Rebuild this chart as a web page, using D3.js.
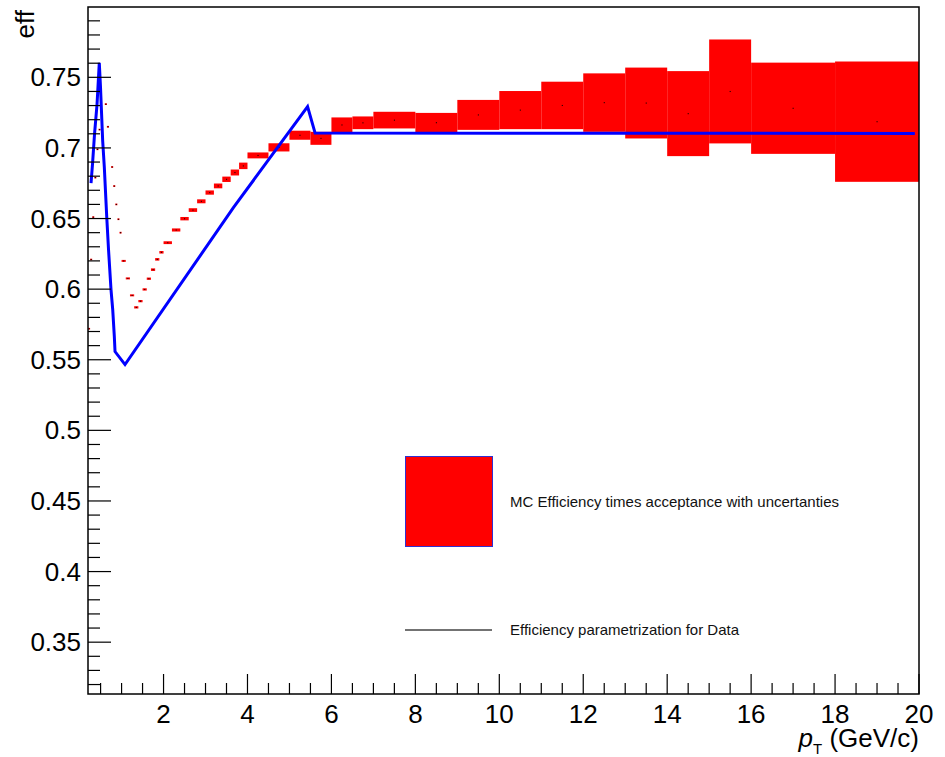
<!DOCTYPE html>
<html>
<head>
<meta charset="utf-8">
<script src="https://cdnjs.cloudflare.com/ajax/libs/d3/7.8.5/d3.min.js"></script>
<style>
    body { margin: 0; background: #fff; }
    text { font-family: "Liberation Sans", Arial, sans-serif; }
</style>
</head>
<body>
<svg></svg>
<script>
"use strict";

// MC efficiency x acceptance per pT bin (value +- uncertainty)
var binLow = [0.20, 0.25, 0.30, 0.35, 0.40, 0.45, 0.60, 0.65, 0.75, 0.80, 0.85, 0.90, 0.95,
    1.0, 1.1, 1.2, 1.3, 1.4, 1.5, 1.6, 1.7, 1.8, 1.9,
    2.0, 2.2, 2.4, 2.6, 2.8, 3.0, 3.2, 3.4, 3.6, 3.8,
    4.0, 4.5, 5.0, 5.5, 6.0, 6.5, 7, 8, 9, 10, 11, 12, 13, 14, 15, 16, 18];
var binHigh = [0.25, 0.30, 0.35, 0.40, 0.45, 0.50, 0.65, 0.70, 0.80, 0.85, 0.90, 0.95, 1.00,
    1.1, 1.2, 1.3, 1.4, 1.5, 1.6, 1.7, 1.8, 1.9, 2.0,
    2.2, 2.4, 2.6, 2.8, 3.0, 3.2, 3.4, 3.6, 3.8, 4.0,
    4.5, 5.0, 5.5, 6.0, 6.5, 7, 8, 9, 10, 11, 12, 13, 14, 15, 16, 18, 20];
var effMC = [0.572, 0.621, 0.651, 0.679, 0.699, 0.713, 0.731, 0.715, 0.6865, 0.673, 0.660, 0.6495, 0.640,
    0.620, 0.6076, 0.5956, 0.5871, 0.5915, 0.5998, 0.6074, 0.6138, 0.6211, 0.6261,
    0.6329, 0.6419, 0.6499, 0.656, 0.6622, 0.6684, 0.6731, 0.6778, 0.6826, 0.6873,
    0.6947, 0.7004, 0.709, 0.7068, 0.7163, 0.7178, 0.7197, 0.7179, 0.7234, 0.7268, 0.7301, 0.7321,
    0.7318, 0.7243, 0.740, 0.7281, 0.7186];
var errMC = [0.0005, 0.0005, 0.0005, 0.0005, 0.0005, 0.0005, 0.0006, 0.0006, 0.0006, 0.0006, 0.0006, 0.0006, 0.0006,
    0.0007, 0.0007, 0.0007, 0.0008, 0.0008, 0.0008, 0.0008, 0.0009, 0.0009, 0.0009,
    0.0010, 0.0011, 0.0012, 0.0013, 0.0014, 0.0015, 0.0017, 0.0019, 0.0021, 0.0023,
    0.0021, 0.0029, 0.0032, 0.0046, 0.0053, 0.0045, 0.0059, 0.0069, 0.0106, 0.0135, 0.0168, 0.0207,
    0.0251, 0.0301, 0.0368, 0.0323, 0.0426];

// efficiency parametrization used for data
var paramPt = [0.272, 0.307, 0.355, 0.415, 0.469, 0.498, 0.550, 0.589, 0.646, 0.689, 0.748, 0.789,
    0.827, 0.844, 1.082, 3.664, 5.432, 5.611, 19.9];
var paramEff = [0.675, 0.6884, 0.7096, 0.7309, 0.7603, 0.7429, 0.7049, 0.6862, 0.6514, 0.6281, 0.5997, 0.5855,
    0.5666, 0.5558, 0.5466, 0.6577, 0.7293, 0.7105, 0.7103];

var xTicks = [2, 4, 6, 8, 10, 12, 14, 16, 18, 20];
var yTicks = [0.35, 0.4, 0.45, 0.5, 0.55, 0.6, 0.65, 0.7, 0.75];

var legendLabels = ["MC Efficiency times acceptance with uncertanties", "Efficiency parametrization for Data"];

var settings = {
    svg: { width: 945, height: 757 },
    frame: { left: 88, right: 919, top: 7, bottom: 694 },
    x: { min: 0.2, max: 20, minorStep: 0.5, major: 20, minor: 11 },
    y: { min: 0.3133, max: 0.7998, minorStep: 0.01, major: 23, minor: 12 },
    font: 26,
    red: '#ff0000',
    blue: '#0000ff'
};

var fr = settings.frame;

var svg = d3.select('svg')
    .attr('width', settings.svg.width)
    .attr('height', settings.svg.height);

var x = d3.scaleLinear().domain([settings.x.min, settings.x.max]).range([fr.left, fr.right]);
var y = d3.scaleLinear().domain([settings.y.min, settings.y.max]).range([fr.bottom, fr.top]);

svg.append('clipPath').attr('id', 'plot-clip')
    .append('rect')
    .attr('x', fr.left).attr('y', fr.top)
    .attr('width', fr.right - fr.left).attr('height', fr.bottom - fr.top);

var bins = binLow.map((lo, i) => ({ lo: lo, hi: binHigh[i], v: effMC[i], e: errMC[i] }));

var plot = svg.append('g').attr('clip-path', 'url(#plot-clip)');

// uncertainty boxes
plot.append('g')
    .selectAll('rect')
    .data(bins)
    .enter()
    .append('rect')
    .attr('x', d => x(d.lo))
    .attr('width', d => x(d.hi) - x(d.lo))
    .attr('y', d => Math.min(y(d.v + d.e), y(d.v) - 0.8))
    .attr('height', d => Math.max(y(d.v - d.e) - y(d.v + d.e), 1.6))
    .attr('fill', settings.red);

// central values
plot.append('g')
    .selectAll('rect')
    .data(bins)
    .enter()
    .append('rect')
    .attr('x', d => x((d.lo + d.hi) / 2) - 0.5)
    .attr('y', d => y(d.v) - 0.5)
    .attr('width', 1.1)
    .attr('height', 1.1)
    .attr('fill', '#200000');

// parametrization curve
var line = d3.line().x(d => x(d[0])).y(d => y(d[1]));
plot.append('path')
    .datum(paramPt.map((p, i) => [p, paramEff[i]]))
    .attr('d', line)
    .attr('fill', 'none')
    .attr('stroke', settings.blue)
    .attr('stroke-width', 3)
    .attr('stroke-linejoin', 'miter');

// frame
svg.append('rect')
    .attr('x', fr.left).attr('y', fr.top)
    .attr('width', fr.right - fr.left).attr('height', fr.bottom - fr.top)
    .attr('fill', 'none')
    .attr('stroke', '#000')
    .attr('stroke-width', 1.5);

// ticks
var xMinor = d3.range(0.5, settings.x.max + 0.001, settings.x.minorStep).filter(v => v >= settings.x.min);
svg.append('g')
    .selectAll('line')
    .data(xMinor)
    .enter()
    .append('line')
    .attr('x1', d => x(d)).attr('x2', d => x(d))
    .attr('y1', fr.bottom)
    .attr('y2', d => fr.bottom - (Math.abs(d / 2 - Math.round(d / 2)) < 1e-6 ? settings.x.major : settings.x.minor))
    .attr('stroke', '#000')
    .attr('stroke-width', 1.2);

var yMinor = d3.range(0.32, settings.y.max, settings.y.minorStep);
svg.append('g')
    .selectAll('line')
    .data(yMinor)
    .enter()
    .append('line')
    .attr('y1', d => y(d)).attr('y2', d => y(d))
    .attr('x1', fr.left)
    .attr('x2', d => fr.left + (Math.abs(d * 20 - Math.round(d * 20)) < 1e-6 ? settings.y.major : settings.y.minor))
    .attr('stroke', '#000')
    .attr('stroke-width', 1.2);

// tick labels
svg.append('g')
    .selectAll('text')
    .data(xTicks)
    .enter()
    .append('text')
    .attr('x', d => x(d))
    .attr('y', 723)
    .attr('text-anchor', 'middle')
    .attr('font-size', settings.font)
    .text(d => d);

svg.append('g')
    .selectAll('text')
    .data(yTicks)
    .enter()
    .append('text')
    .attr('x', 81)
    .attr('y', d => y(d) + 9)
    .attr('text-anchor', 'end')
    .attr('font-size', settings.font)
    .text(d => +d.toFixed(2));

// axis titles
svg.append('text')
    .attr('transform', 'translate(34,10) rotate(-90)')
    .attr('text-anchor', 'end')
    .attr('font-size', settings.font)
    .text('eff');

var xTitle = svg.append('text')
    .attr('x', 919)
    .attr('y', 747)
    .attr('text-anchor', 'end')
    .attr('font-size', settings.font);
xTitle.append('tspan').attr('font-style', 'italic').text('p');
xTitle.append('tspan').attr('font-size', 15).attr('dy', 7).text('T');
xTitle.append('tspan').attr('dy', -7).text(' (GeV/c)');

// legend
var legend = svg.append('g');
legend.append('rect')
    .attr('x', 405.5).attr('y', 456.5)
    .attr('width', 87).attr('height', 90)
    .attr('fill', settings.red)
    .attr('stroke', '#3030d0')
    .attr('stroke-width', 1);
legend.append('line')
    .attr('x1', 405).attr('x2', 492)
    .attr('y1', 630).attr('y2', 630)
    .attr('stroke', '#444')
    .attr('stroke-width', 1.3);
legend.selectAll('text.lab')
    .data(legendLabels)
    .enter()
    .append('text')
    .attr('class', 'lab')
    .attr('x', 510)
    .attr('y', (d, i) => i === 0 ? 507 : 635)
    .attr('font-size', 15)
    .attr('fill', '#111')
    .text(d => d);
</script>
</body>
</html>
